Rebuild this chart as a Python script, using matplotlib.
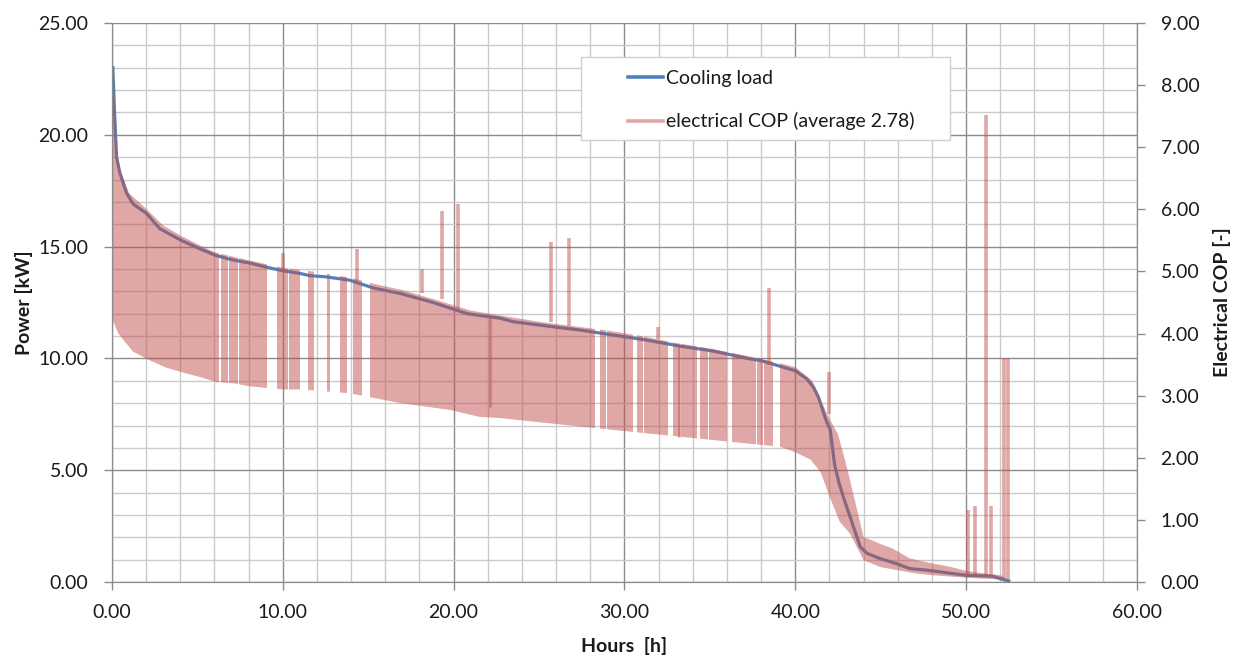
import matplotlib
matplotlib.use("Agg")
import matplotlib.pyplot as plt
from matplotlib.lines import Line2D
from matplotlib.patches import Rectangle
from matplotlib.path import Path
from matplotlib.ticker import MultipleLocator, FormatStrFormatter

# ---------------- data ----------------
# Cooling load duration curve [kW]
cool_h = [0.05, 0.15, 0.27, 0.46, 0.85, 1.24, 2.0, 2.8, 4.0, 5.15, 6.1, 7.1, 8.1,
          9.05, 10.0, 11.0, 11.6, 12.5, 13.9, 15.3, 16.9, 18.8, 20.8, 22.7, 23.5,
          25.45, 27.4, 29.3, 31.3, 33.25, 35.2, 37.2, 38.0, 39.1, 40.0, 40.68, 41.07,
          41.36, 41.65, 41.85, 42.04, 42.3, 42.56, 42.8, 43.2, 43.8, 44.2, 44.95,
          45.9, 46.7, 47.7, 48.8, 50.0, 51.55, 52.3, 52.5]
cool_kw = [23.0, 21.0, 19.0, 18.3, 17.4, 16.9, 16.5, 15.8, 15.3, 14.9, 14.6, 14.4, 14.26,
           14.08, 13.92, 13.8, 13.7, 13.65, 13.5, 13.15, 12.9, 12.5, 12.0, 11.8, 11.64,
           11.45, 11.27, 11.05, 10.82, 10.55, 10.33, 10.0, 9.9, 9.65, 9.45, 9.08, 8.7,
           8.26, 7.58, 7.13, 6.83, 5.25, 4.43, 3.83, 2.93, 1.58, 1.28, 1.05,
           0.83, 0.6, 0.53, 0.42, 0.3, 0.26, 0.08, 0.05]

# Electrical COP: upper and lower envelope of the rapidly oscillating series [-]
cop_up_h = [0.05, 0.3, 0.5, 1.0, 2.0, 3.0, 4.0, 5.0, 6.0, 8.0, 10.0, 12.0, 14.0, 15.5,
            17.0, 19.0, 21.0, 23.0, 25.0, 27.0, 29.0, 31.0, 33.0, 35.0, 37.0, 39.0,
            40.0, 41.0, 41.5, 42.0, 42.5, 43.0, 43.5, 44.0, 44.5, 45.0, 45.7, 46.7,
            48.0, 49.0, 50.0, 51.0, 52.0, 52.5]
cop_up = [8.35, 6.91, 6.62, 6.26, 6.01, 5.74, 5.58, 5.44, 5.31, 5.18, 5.06, 4.99, 4.90, 4.79,
          4.70, 4.54, 4.37, 4.28, 4.19, 4.12, 4.05, 3.96, 3.85, 3.76, 3.65, 3.53,
          3.46, 3.24, 2.92, 2.63, 2.38, 1.87, 1.30, 0.72, 0.67, 0.61, 0.54, 0.38,
          0.30, 0.25, 0.18, 0.14, 0.11, 0.04]
cop_low_h = [0.05, 0.1, 0.37, 1.23, 2.2, 3.2, 4.2, 5.15, 6.1, 7.1, 8.1, 10.0, 11.0, 13.9,
             16.9, 19.8, 21.5, 22.7, 25.45, 29.3, 33.25, 37.2, 39.1, 40.0, 40.9, 41.5,
             42.0, 42.6, 43.2, 43.8, 44.0, 45.0, 46.0, 47.0, 48.0, 50.0, 52.0, 52.5]
cop_low = [4.18, 4.18, 4.00, 3.71, 3.57, 3.45, 3.37, 3.30, 3.22, 3.20, 3.15, 3.10, 3.10, 3.04,
           2.88, 2.77, 2.66, 2.64, 2.56, 2.45, 2.34, 2.23, 2.18, 2.09, 1.97, 1.76,
           1.38, 0.97, 0.78, 0.46, 0.35, 0.24, 0.19, 0.14, 0.11, 0.07, 0.04, 0.02]

# Hour ranges where the COP series is absent (white gaps in the band)
gap_start = [6.28, 6.78, 7.37, 9.05, 10.28, 11.0, 11.8, 12.76, 13.74, 14.62, 28.27, 28.94,
             30.52, 31.08, 32.57, 33.23, 34.23, 34.89, 35.99, 37.71, 38.11, 38.72]
gap_end = [6.36, 6.85, 7.44, 9.64, 10.36, 11.5, 12.57, 13.35, 14.13, 15.1, 28.57, 29.0,
           30.72, 31.14, 32.87, 33.29, 34.43, 34.95, 36.28, 37.77, 38.17, 39.1]

# Isolated COP peaks: hour, from, to [-]
spike_h = [10.03, 14.33, 18.13, 19.3, 20.28, 25.7, 26.75, 31.95, 38.47, 41.95,
           50.1, 50.54, 51.17, 51.46, 52.23, 52.43]
spike_lo = [5.0, 4.85, 4.65, 4.55, 4.4, 4.18, 4.12, 3.92, 3.5, 2.7,
            0.09, 0.09, 0.09, 0.09, 0.06, 0.05]
spike_hi = [5.29, 5.36, 5.04, 5.98, 6.08, 5.47, 5.54, 4.10, 4.73, 3.38,
            1.16, 1.23, 7.52, 1.22, 3.60, 3.60]

# Overlapping (darker) COP strokes
dark_h = [22.13, 33.2]
dark_lo = [2.81, 2.34]
dark_hi = [4.28, 3.82]

x_ticks = [0, 10, 20, 30, 40, 50, 60]
p_ticks = [0, 5, 10, 15, 20, 25]
cop_ticks = [0, 1, 2, 3, 4, 5, 6, 7, 8, 9]

label_cool = "Cooling load"
label_cop = "electrical COP (average 2.78)"

# ---------------- style ----------------
plt.rcParams['font.family'] = ['Lato', 'DejaVu Sans']
BLUE = '#4F81BD'
RED = '#C0504D'
TXT = '#1a1a1a'
MAJ = '#8c8c8c'
MIN = '#cacaca'

fig = plt.figure(figsize=(12.4, 6.59), dpi=100)
ax = fig.add_axes([0.0903, 0.1168, 0.8266, 0.8483])
ax.set_xlim(0, 60)
ax.set_ylim(0, 25)
ax.set_xticks(x_ticks)
ax.set_yticks(p_ticks)
ax.xaxis.set_minor_locator(MultipleLocator(2))
ax.yaxis.set_minor_locator(MultipleLocator(1))
ax.xaxis.set_major_formatter(FormatStrFormatter('%.2f'))
ax.yaxis.set_major_formatter(FormatStrFormatter('%.2f'))
ax.set_axisbelow(True)
ax.grid(which='minor', color=MIN, lw=1.0)
ax.grid(which='major', color=MAJ, lw=1.0)
ax.tick_params(which='major', direction='out', length=6, width=1, color=MAJ,
               labelsize=14, labelcolor=TXT)
ax.tick_params(axis='y', which='major', pad=11)
ax.tick_params(axis='x', which='major', pad=10)
ax.tick_params(which='minor', length=0)
ax.spines['top'].set_visible(False)
for s in ['left', 'bottom', 'right']:
    ax.spines[s].set_color(MAJ)

ax.plot(cool_h, cool_kw, color=BLUE, lw=2.3, solid_joinstyle='round', zorder=3)

ax2 = ax.twinx()
ax2.set_ylim(0, 9)
ax2.set_yticks(cop_ticks)
ax2.yaxis.set_major_formatter(FormatStrFormatter('%.2f'))
ax2.tick_params(direction='out', length=6, width=1, color=MAJ, labelsize=14,
                labelcolor=TXT, pad=11)
ax2.spines['top'].set_visible(False)
for s in ['left', 'bottom', 'right']:
    ax2.spines[s].set_color(MAJ)

# band of the oscillating COP series
poly_x = list(cop_up_h) + list(cop_low_h[::-1])
poly_y = list(cop_up) + list(cop_low[::-1])
band = ax2.fill(poly_x, poly_y, color=RED, alpha=0.5, lw=0)[0]

# clip away the gap ranges
dense_a = [0.0] + gap_end
dense_b = gap_start + [60.0]
rects = []
for a, b in zip(dense_a, dense_b):
    rects.append(Path([(a, -1), (b, -1), (b, 10), (a, 10), (a, -1)],
                      [Path.MOVETO, Path.LINETO, Path.LINETO, Path.LINETO, Path.CLOSEPOLY]))
clip = Path.make_compound_path(*rects)
band.set_clip_path(clip, ax2.transData)

ax2.vlines(spike_h, spike_lo, spike_hi, color=RED, alpha=0.5, lw=2.6)
ax2.vlines(dark_h, dark_lo, dark_hi, color=RED, alpha=0.5, lw=2.0)

# axis labels
ax.set_xlabel("Hours  [h]", fontsize=14, fontweight='bold', color=TXT, labelpad=11)
ax.set_ylabel("Power [kW]", fontsize=14, fontweight='bold', color=TXT, labelpad=4)
ax2.set_ylabel("Electrical COP [-]", fontsize=14, fontweight='bold', color=TXT,
               rotation=90, labelpad=10)

# legend
frame = Rectangle((581 / 1240, 1 - 140 / 659), (950 - 581) / 1240, 83 / 659,
                  transform=fig.transFigure, facecolor='white', edgecolor='#d0d0d0',
                  lw=1, zorder=4.5, clip_on=False)
ax2.add_patch(frame)
handles = [Line2D([], [], color=BLUE, lw=2.6),
           Line2D([], [], color=RED, alpha=0.5, lw=2.6)]
ax2.legend(handles, [label_cool, label_cop], loc='upper left',
           bbox_to_anchor=(628 / 1240, 1 - 70 / 659), bbox_transform=fig.transFigure,
           frameon=False, fontsize=14, handlelength=1.8, handletextpad=0.15,
           labelspacing=1.3, borderpad=0, borderaxespad=0)
for t in ax2.get_legend().get_texts():
    t.set_color(TXT)

fig.savefig("out.png", dpi=100)
